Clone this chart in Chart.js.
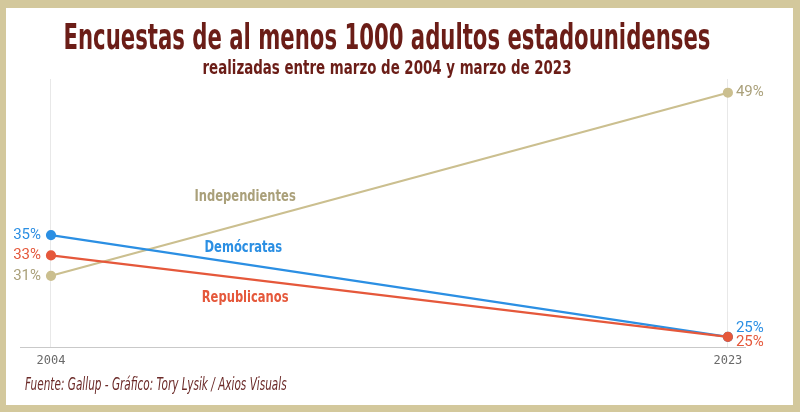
<!DOCTYPE html>
<html>
<head>
<meta charset="utf-8">
<script src="https://cdn.jsdelivr.net/npm/chart.js@4.4.1/dist/chart.umd.min.js"></script>
<style>
  html, body { margin: 0; padding: 0; background: #fff; }
  #frame { position: relative; width: 800px; height: 412px; box-sizing: border-box;
    border-style: solid; border-color: #d3c89c; border-width: 8px 7px 7px 6px; background: #fff; overflow: hidden; }
  #chart { position: absolute; left: -6px; top: -8px; }
  .title { position: absolute; left: 381px; color: #6b1d17;
    font-family: "Liberation Sans Narrow", "DejaVu Sans Condensed", sans-serif; font-weight: bold; white-space: nowrap; }
  #t1 { top: 8px; font-size: 36px; transform: translateX(-50%) scaleX(0.655); }
  #t2 { top: 47px; font-size: 20px; transform: translateX(-50%) scaleX(0.744); }
  #foot { position: absolute; left: 19px; top: 366px; color: #6b2a28; font-style: italic;
    font-family: "Liberation Sans Narrow", "DejaVu Sans Condensed", sans-serif; font-size: 17px;
    transform: scaleX(0.686); transform-origin: 0 0; white-space: nowrap; }
</style>
</head>
<body>
<div id="frame">
  <canvas id="chart" width="800" height="412"></canvas>
  <div class="title" id="t1">Encuestas de al menos 1000 adultos estadounidenses</div>
  <div class="title" id="t2">realizadas entre marzo de 2004 y marzo de 2023</div>
  <div id="foot">Fuente: Gallup - Gráfico: Tory Lysik / Axios Visuals</div>
</div>
<script>
const context = document.getElementById("chart").getContext("2d");

// Values
const years = [2004, 2023];
const seriesNames = ["Republicanos", "Demócratas", "Independientes"];
const republicanos = [33, 25];
const democratas = [35, 25];
const independientes = [31, 49];

const lineColors = ["#e5583b", "#2b8fe3", "#cbbf8f"];
const textColors = ["#e5583b", "#2b8fe3", "#aaa07a"];
const allValues = [republicanos, democratas, independientes];

// where the series names sit (data units)
const namePos = [[2009.45, 28.8], [2009.4, 33.75], [2009.45, 38.8]];
// end label vertical nudges [left, right]
const labelNudge = [[0, 5], [0, -9], [0, 0]];

const labelPlugin = {
  id: "endLabels",
  afterDatasetsDraw(chart) {
    const ctx = chart.ctx;
    const xs = chart.scales.x, ys = chart.scales.y;
    ctx.save();
    ctx.textBaseline = "middle";
    chart.data.datasets.forEach((ds, i) => {
      const pts = chart.getDatasetMeta(i).data;
      ctx.fillStyle = textColors[i];
      ctx.font = "15px Roboto, 'Liberation Sans', sans-serif";
      ctx.textAlign = "right";
      ctx.fillText(ds.data[0].y + "%", pts[0].x - 10, pts[0].y + labelNudge[i][0]);
      ctx.textAlign = "left";
      ctx.fillText(ds.data[1].y + "%", pts[1].x + 8, pts[1].y + labelNudge[i][1]);
      // series name, squeezed a bit like a condensed face
      ctx.save();
      ctx.translate(xs.getPixelForValue(namePos[i][0]), ys.getPixelForValue(namePos[i][1]));
      ctx.scale(0.8, 1);
      ctx.font = "bold 16px 'Liberation Sans Narrow', 'DejaVu Sans Condensed', sans-serif";
      ctx.textAlign = "center";
      ctx.fillText(ds.label, 0, 0);
      ctx.restore();
    });
    ctx.restore();
  }
};

const datasets = seriesNames.map((name, i) => ({
  label: name,
  data: years.map((yr, j) => ({ x: yr, y: allValues[i][j] })),
  borderColor: lineColors[i],
  backgroundColor: lineColors[i],
  borderWidth: 2.2,
  pointRadius: 4,
  pointHoverRadius: 4,
  tension: 0
}));

new Chart(context, {
  type: "line",
  data: { datasets },
  plugins: [labelPlugin],
  options: {
    responsive: false,
    animation: false,
    layout: { padding: { left: 20, right: 55, top: 79, bottom: 43 } },
    plugins: { legend: { display: false }, tooltip: { enabled: false } },
    scales: {
      x: {
        type: "linear",
        min: 2003.13,
        max: 2023.48,
        afterBuildTicks: (scale) => { scale.ticks = years.map(v => ({ value: v })); },
        afterFit: (scale) => { scale.height = 22; },
        ticks: {
          callback: (v) => String(v),
          color: "#6a6a6a",
          padding: 7,
          font: { family: "'DejaVu Sans Mono', monospace", size: 12 }
        },
        grid: { color: "#e8e8e8", drawTicks: false, lineWidth: 1 },
        border: { display: true, color: "#c9c9c9" }
      },
      y: {
        display: false,
        min: 24,
        max: 50.35
      }
    }
  }
});
</script>
</body>
</html>
